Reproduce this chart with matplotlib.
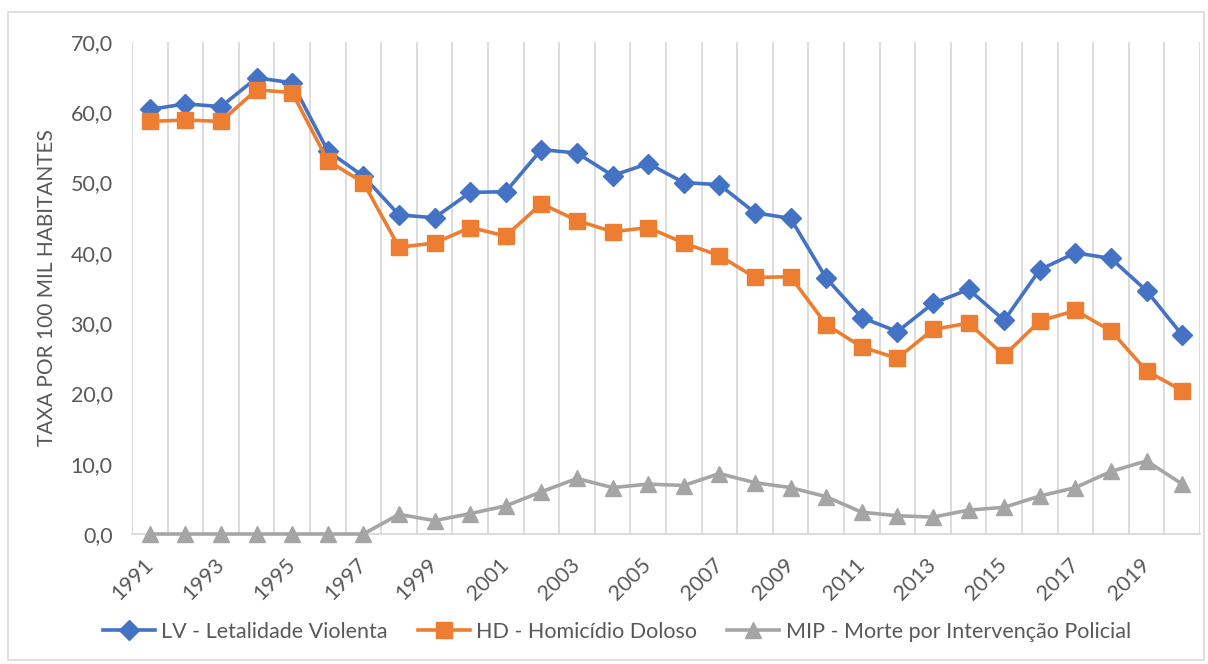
import numpy as np
import matplotlib.pyplot as plt
from matplotlib.patches import Rectangle

plt.rcParams['font.family'] = ['Lato', 'DejaVu Sans']

years = list(range(1991, 2021))
lv = [60.4, 61.2, 60.8, 64.9, 64.2, 54.5, 50.9, 45.4, 45.0, 48.6,
      48.7, 54.7, 54.2, 51.0, 52.7, 50.0, 49.7, 45.7, 44.9, 36.4,
      30.8, 28.8, 32.8, 34.8, 30.4, 37.6, 40.0, 39.2, 34.6, 28.3]
hd = [58.7, 58.9, 58.7, 63.2, 62.8, 53.1, 50.0, 40.8, 41.4, 43.6,
      42.4, 47.0, 44.6, 43.0, 43.6, 41.4, 39.6, 36.5, 36.6, 29.8,
      26.6, 25.0, 29.1, 30.0, 25.4, 30.3, 31.8, 28.9, 23.2, 20.4]
mip = [0.0, 0.0, 0.0, 0.0, 0.0, 0.0, 0.0, 2.8, 1.9, 2.9,
       4.0, 6.0, 7.9, 6.6, 7.1, 6.9, 8.6, 7.3, 6.6, 5.3,
       3.1, 2.6, 2.4, 3.4, 3.8, 5.4, 6.6, 8.9, 10.4, 7.1]

labels = ['LV - Letalidade Violenta', 'HD - Homicídio Doloso',
          'MIP - Morte por Intervenção Policial']
colors = ['#4472C4', '#ED7D31', '#A5A5A5']
markers = ['D', 's', '^']
sizes = [10, 11, 12]

text_color = '#595959'
grid_color = '#D9D9D9'

fig = plt.figure(figsize=(12.08, 6.64), dpi=100)
ax = fig.add_axes([132 / 1208, 1 - 534 / 664, (1200 - 132) / 1208, (534 - 42) / 664])

x = np.arange(len(years))
for series, lab, c, m, s in zip([lv, hd, mip], labels, colors, markers, sizes):
    ax.plot(x, series, color=c, lw=2.6, marker=m, markersize=s,
            label=lab, zorder=3, solid_joinstyle='round', clip_on=False)

ax.set_xlim(-0.5, len(years) - 0.5)
ax.set_ylim(0, 70)

# vertical gridlines between categories
for b in np.arange(-0.5, len(years), 1.0):
    ax.axvline(b, color=grid_color, lw=1.3, zorder=1)

ax.set_yticks(np.arange(0, 71, 10))
ax.set_yticklabels([f'{v:.1f}'.replace('.', ',') for v in range(0, 71, 10)])
ax.set_xticks(x[::2])
ax.set_xticklabels([str(y) for y in years[::2]], rotation=45, ha='right',
                   va='center', rotation_mode='anchor')

ax.tick_params(axis='both', length=0, colors=text_color, labelsize=15.5)
ax.tick_params(axis='x', pad=20)
ax.tick_params(axis='y', pad=14)

for side in ['top', 'right', 'left']:
    ax.spines[side].set_visible(False)
ax.spines['bottom'].set_color(grid_color)
ax.spines['bottom'].set_linewidth(1.3)

ax.set_ylabel('TAXA POR 100 MIL HABITANTES', color=text_color, fontsize=15,
              labelpad=10)

fig.legend(loc='center', bbox_to_anchor=(0.5 + 13 / 1208, 1 - 632 / 664), ncol=3,
           frameon=False, fontsize=15.5, labelcolor=text_color, handlelength=2.4,
           columnspacing=1.4, handletextpad=0.3)

fig.patches.append(Rectangle((8 / 1208, 4 / 664), 1196 / 1208, 648 / 664,
                             transform=fig.transFigure, fill=False,
                             edgecolor=grid_color, lw=1.2))

fig.savefig('out.png', dpi=100)
